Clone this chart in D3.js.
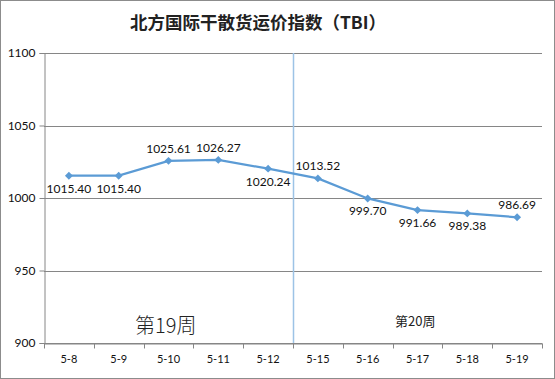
<!DOCTYPE html>
<html>
<head>
<meta charset="utf-8">
<script src="https://cdn.jsdelivr.net/npm/d3@7"></script>
<style>
  body { margin: 0; background: #fff; }
  svg { display: block; }
</style>
</head>
<body>
<script>
// data
var dates = ['5-8', '5-9', '5-10', '5-11', '5-12', '5-15', '5-16', '5-17', '5-18', '5-19']
var values = [1015.40, 1015.40, 1025.61, 1026.27, 1020.24, 1013.52, 999.70, 991.66, 989.38, 986.69]
var labelAbove = [false, false, true, true, false, true, false, false, false, true]
var yTicks = [900, 950, 1000, 1050, 1100]

var W = 555, H = 379
// note: "top" is taken by window.top, so plot edges get their own names
var plotL = 44, plotR = 542, plotT = 53, plotB = 343

var svg = d3.select('body').append('svg')
  .attr('width', W)
  .attr('height', H)

svg.append('rect')
  .attr('x', 0.5).attr('y', 0.5)
  .attr('width', W - 1).attr('height', H - 1)
  .attr('fill', '#fff')
  .attr('stroke', '#8c8c8c')

var x = d3.scaleBand().domain(dates).range([plotL, plotR])
var y = d3.scaleLinear().domain([900, 1100]).range([plotB, plotT])

// title
svg.append('text')
  .attr('x', 258).attr('y', 29)
  .attr('text-anchor', 'middle')
  .attr('font-family', 'Noto Sans CJK SC')
  .attr('font-weight', 'bold')
  .attr('font-size', 17.5)
  .attr('fill', '#222')
  .text('北方国际干散货运价指数（TBI）')

// gridlines
svg.append('g')
  .selectAll('line')
  .data(yTicks)
  .enter()
  .append('line')
  .attr('x1', plotL).attr('x2', plotR)
  .attr('y1', function(d){ return Math.round(y(d)) + 0.5 })
  .attr('y2', function(d){ return Math.round(y(d)) + 0.5 })
  .attr('stroke', '#868686')

// y axis
var yAxis = svg.append('g')
  .attr('transform', 'translate(' + (plotL + 0.5) + ',0)')
  .call(d3.axisLeft(y).tickValues(yTicks).tickFormat(d3.format('d')).tickSize(5).tickPadding(4))
yAxis.select('.domain').attr('stroke', '#868686')
yAxis.selectAll('line').attr('stroke', '#868686')
yAxis.selectAll('text')
  .attr('font-family', 'Lato')
  .attr('font-size', 12)
  .attr('fill', '#111')

// x axis with ticks between categories
var xAxis = svg.append('g')
  .attr('transform', 'translate(0,' + (plotB + 0.5) + ')')
  .call(d3.axisBottom(x).tickSize(0).tickPadding(12))
xAxis.select('.domain').attr('stroke', '#868686')
xAxis.selectAll('text')
  .attr('font-family', 'Lato')
  .attr('font-size', 11)
  .attr('fill', '#111')
xAxis.selectAll('.sep')
  .data(d3.range(dates.length + 1))
  .enter()
  .append('line')
  .attr('class', 'sep')
  .attr('x1', function(i){ return Math.round(plotL + i * x.step()) + 0.5 })
  .attr('x2', function(i){ return Math.round(plotL + i * x.step()) + 0.5 })
  .attr('y1', 0).attr('y2', 5)
  .attr('stroke', '#868686')

// week divider
var divX = Math.round(plotL + 5 * x.step()) + 0.5
svg.append('line')
  .attr('x1', divX).attr('x2', divX)
  .attr('y1', plotT).attr('y2', plotB)
  .attr('stroke', '#9dc3e6')
  .attr('stroke-width', 1.5)

// series line
var cx = function(d, i){ return x(dates[i]) + x.bandwidth() / 2 }
var line = d3.line()
  .x(function(d, i){ return cx(d, i) })
  .y(function(d){ return y(d) })

svg.append('path')
  .datum(values)
  .attr('d', line)
  .attr('fill', 'none')
  .attr('stroke', '#5b9bd5')
  .attr('stroke-width', 2.25)

svg.append('g')
  .selectAll('path')
  .data(values)
  .enter()
  .append('path')
  .attr('d', d3.symbol(d3.symbolDiamond2, 40))
  .attr('transform', function(d, i){ return 'translate(' + cx(d, i) + ',' + y(d) + ')' })
  .attr('fill', '#5b9bd5')

// data labels
svg.append('g')
  .selectAll('text')
  .data(values)
  .enter()
  .append('text')
  .attr('x', function(d, i){ return cx(d, i) })
  .attr('y', function(d, i){ return y(d) + (labelAbove[i] ? -8 : 17) })
  .attr('text-anchor', 'middle')
  .attr('font-family', 'Lato')
  .attr('font-size', 12)
  .attr('fill', '#111')
  .text(function(d){ return d.toFixed(2) })

// week notes
svg.append('text')
  .attr('x', 135).attr('y', 333)
  .attr('font-family', 'Noto Sans CJK SC')
  .attr('font-weight', 300)
  .attr('font-size', 20)
  .attr('fill', '#222')
  .text('第19周')

svg.append('text')
  .attr('x', 395).attr('y', 326)
  .attr('font-family', 'Noto Sans CJK SC')
  .attr('font-size', 13)
  .attr('fill', '#222')
  .text('第20周')
</script>
</body>
</html>
